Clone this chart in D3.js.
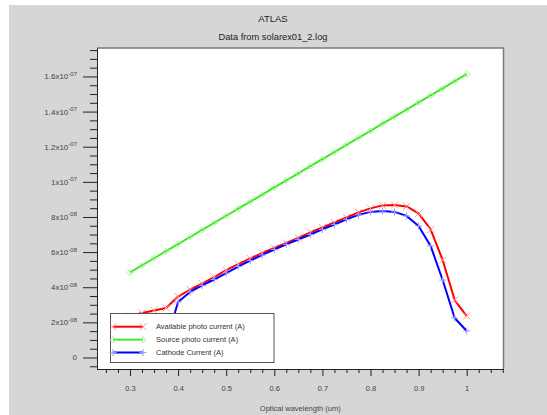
<!DOCTYPE html>
<html>
<head>
<meta charset="utf-8">
<script src="https://cdn.jsdelivr.net/npm/d3@7"></script>
<style>
  body { margin: 0; background: #fff; }
  svg { display: block; font-family: "Liberation Sans", Arial, Helvetica, sans-serif; }
</style>
</head>
<body>
<svg id="chart" width="547" height="415"></svg>
<script>
// Wavelength sweep (um)
const wavelengths = [0.3, 0.325, 0.35, 0.375, 0.4, 0.425, 0.45, 0.475, 0.5, 0.525,
  0.55, 0.575, 0.6, 0.625, 0.65, 0.675, 0.7, 0.725, 0.75, 0.775,
  0.8, 0.825, 0.85, 0.875, 0.9, 0.925, 0.95, 0.975, 1.0];

// Currents (A)
const availableCurrent = [2.36e-8, 2.53e-8, 2.68e-8, 2.82e-8, 3.47e-8, 3.87e-8, 4.21e-8, 4.58e-8, 4.98e-8, 5.32e-8,
  5.64e-8, 5.95e-8, 6.24e-8, 6.52e-8, 6.81e-8, 7.12e-8, 7.40e-8, 7.69e-8, 7.97e-8, 8.26e-8,
  8.49e-8, 8.66e-8, 8.68e-8, 8.60e-8, 8.20e-8, 7.29e-8, 5.55e-8, 3.27e-8, 2.36e-8];
const sourceCurrent = [4.84e-8, 5.24e-8, 5.65e-8, 6.05e-8, 6.45e-8, 6.86e-8, 7.26e-8, 7.66e-8, 8.07e-8, 8.47e-8,
  8.87e-8, 9.27e-8, 9.68e-8, 10.08e-8, 10.48e-8, 10.89e-8, 11.29e-8, 11.69e-8, 12.10e-8, 12.50e-8,
  12.90e-8, 13.31e-8, 13.71e-8, 14.11e-8, 14.52e-8, 14.92e-8, 15.32e-8, 15.73e-8, 16.13e-8];
const cathodeCurrent = [0.25e-8, 0.45e-8, 0.70e-8, 0.88e-8, 3.16e-8, 3.73e-8, 4.10e-8, 4.44e-8, 4.81e-8, 5.18e-8,
  5.52e-8, 5.84e-8, 6.15e-8, 6.44e-8, 6.72e-8, 7.00e-8, 7.29e-8, 7.57e-8, 7.86e-8, 8.12e-8,
  8.29e-8, 8.34e-8, 8.29e-8, 8.06e-8, 7.49e-8, 6.35e-8, 4.41e-8, 2.25e-8, 1.51e-8];

const seriesNames = ["Available photo current (A)", "Source photo current (A)", "Cathode Current (A)"];

const xTickValues = [0.3, 0.4, 0.5, 0.6, 0.7, 0.8, 0.9, 1.0];
const xTickLabels = ["0.3", "0.4", "0.5", "0.6", "0.7", "0.8", "0.9", "1"];
const xMinorValues = [0.25, 0.275, 0.325, 0.35, 0.375, 0.425, 0.45, 0.475, 0.525, 0.55, 0.575,
  0.625, 0.65, 0.675, 0.725, 0.75, 0.775, 0.825, 0.85, 0.875, 0.925, 0.95, 0.975, 1.025, 1.05, 1.075];

const yTickValues = [0, 2e-8, 4e-8, 6e-8, 8e-8, 1e-7, 1.2e-7, 1.4e-7, 1.6e-7];
const yTickMantissas = ["0", "2x10", "4x10", "6x10", "8x10", "1x10", "1.2x10", "1.4x10", "1.6x10"];
const yTickExponents = ["", "-08", "-08", "-08", "-08", "-07", "-07", "-07", "-07"];
const yMinorValues = [-5e-9, 5e-9, 1e-8, 1.5e-8, 2.5e-8, 3e-8, 3.5e-8, 4.5e-8, 5e-8, 5.5e-8,
  6.5e-8, 7e-8, 7.5e-8, 8.5e-8, 9e-8, 9.5e-8, 1.05e-7, 1.1e-7, 1.15e-7, 1.25e-7, 1.3e-7, 1.35e-7,
  1.45e-7, 1.5e-7, 1.55e-7, 1.65e-7, 1.7e-7, 1.75e-7];

// ---- layout ----
const W = 547, H = 415;
const plot = { left: 97, right: 503.5, top: 48, bottom: 369 };

const svg = d3.select("#chart");

// page + grey panel
svg.append("rect").attr("x", 0).attr("y", 0).attr("width", W).attr("height", H).attr("fill", "#fff");
svg.append("rect").attr("x", 9).attr("y", 5).attr("width", W - 9).attr("height", H - 5).attr("fill", "#d6d6d6");

// plotting area
svg.append("rect")
  .attr("x", plot.left).attr("y", plot.top)
  .attr("width", plot.right - plot.left).attr("height", plot.bottom - plot.top)
  .attr("fill", "#fff");

const x = d3.scaleLinear().domain([0.2314, 1.0765]).range([plot.left, plot.right]);
const y = d3.scaleLinear().domain([-6.55e-9, 1.762e-7]).range([plot.bottom, plot.top]);

// frame (top and right)
svg.append("path")
  .attr("d", `M${plot.left},${plot.top}H${plot.right}V${plot.bottom}`)
  .attr("fill", "none").attr("stroke", "#7a7a7a").attr("stroke-width", 1.5);

// titles
svg.append("text").attr("x", 273).attr("y", 22).attr("text-anchor", "middle")
  .attr("font-size", 9.5).attr("fill", "#222").text("ATLAS");
svg.append("text").attr("x", 273).attr("y", 40).attr("text-anchor", "middle")
  .attr("font-size", 9.3).attr("fill", "#222").text("Data from solarex01_2.log");

// ---- axes ----
function styleAxis(g) {
  g.selectAll("path.domain").attr("stroke", "#222");
  g.selectAll(".tick line").attr("stroke", "#222");
}

const gxMinor = svg.append("g").attr("transform", `translate(0,${plot.bottom})`)
  .call(d3.axisBottom(x).tickValues(xMinorValues).tickSize(4).tickSizeOuter(0).tickFormat(""));
gxMinor.call(styleAxis);
const gx = svg.append("g").attr("transform", `translate(0,${plot.bottom})`)
  .call(d3.axisBottom(x).tickValues(xTickValues).tickSize(7).tickSizeOuter(0)
    .tickFormat((d, i) => xTickLabels[i]));
gx.call(styleAxis);
gx.selectAll(".tick text")
  .attr("y", 21.5).attr("dy", null)
  .attr("font-size", 7.5).attr("fill", "#444")
  .attr("font-family", "Liberation Sans, Arial, sans-serif");

const gyMinor = svg.append("g").attr("transform", `translate(${plot.left},0)`)
  .call(d3.axisLeft(y).tickValues(yMinorValues).tickSize(7).tickSizeOuter(0).tickFormat(""));
gyMinor.call(styleAxis);
const gy = svg.append("g").attr("transform", `translate(${plot.left},0)`)
  .call(d3.axisLeft(y).tickValues(yTickValues).tickSize(14).tickSizeOuter(0).tickFormat(""));
gy.call(styleAxis);

// y tick labels with superscript exponents
const yLabels = svg.append("g").attr("font-size", 8).attr("fill", "#444");
yTickValues.forEach((v, i) => {
  const t = yLabels.append("text")
    .attr("x", 77).attr("y", y(v) + 3)
    .attr("text-anchor", "end");
  t.append("tspan").text(yTickMantissas[i]);
  if (yTickExponents[i]) {
    t.append("tspan").attr("dy", -3.5).attr("font-size", 6).text(yTickExponents[i]);
  }
});

// x axis title
svg.append("text").attr("x", (plot.left + plot.right) / 2).attr("y", 411)
  .attr("text-anchor", "middle").attr("font-size", 7.5).attr("fill", "#444")
  .text("Optical wavelength (um)");

// ---- series ----
const markers = {
  cross: "M-3.5,-3.5L3.5,3.5M-3.5,3.5L3.5,-3.5",
  diamond: "M0,-3L3,0L0,3L-3,0Z",
  plus: "M-3.5,0H3.5M0,-3.5V3.5"
};

const series = [
  { name: seriesNames[1], values: sourceCurrent, color: "#44e62a", markColor: "#9af58a", mark: "diamond" },
  { name: seriesNames[0], values: availableCurrent, color: "#ff0000", markColor: "#ff9a9a", mark: "cross" },
  { name: seriesNames[2], values: cathodeCurrent, color: "#0000ff", markColor: "#9a9aff", mark: "plus" }
];

const line = d3.line().x(d => x(d[0])).y(d => y(d[1]));
const plotG = svg.append("g");

series.forEach(s => {
  const pts = wavelengths.map((w, i) => [w, s.values[i]]);
  plotG.append("path").datum(pts)
    .attr("d", line).attr("fill", "none")
    .attr("stroke", s.color).attr("stroke-width", 2).attr("stroke-linejoin", "round");
  plotG.selectAll(null).data(pts).enter().append("path")
    .attr("transform", d => `translate(${x(d[0])},${y(d[1])})`)
    .attr("d", markers[s.mark]).attr("fill", "none")
    .attr("stroke", s.markColor).attr("stroke-width", 1);
});

// ---- legend ----
const legend = svg.append("g");
legend.append("rect")
  .attr("x", 110.5).attr("y", 313.5).attr("width", 163.5).attr("height", 49)
  .attr("fill", "#fff").attr("stroke", "#555").attr("stroke-width", 1);

const legendOrder = [series[1], series[0], series[2]];
legendOrder.forEach((s, i) => {
  const ly = 326.7 + i * 12.9;
  legend.append("line").attr("x1", 113).attr("x2", 143).attr("y1", ly).attr("y2", ly)
    .attr("stroke", s.color).attr("stroke-width", 2);
  [113, 143].forEach(mx => {
    legend.append("path").attr("transform", `translate(${mx},${ly})`)
      .attr("d", markers[s.mark]).attr("fill", "none")
      .attr("stroke", s.markColor).attr("stroke-width", 1);
  });
  legend.append("text").attr("x", 156).attr("y", ly + 2.7)
    .attr("font-size", 7.5).attr("fill", "#333").text(s.name);
});
</script>
</body>
</html>
